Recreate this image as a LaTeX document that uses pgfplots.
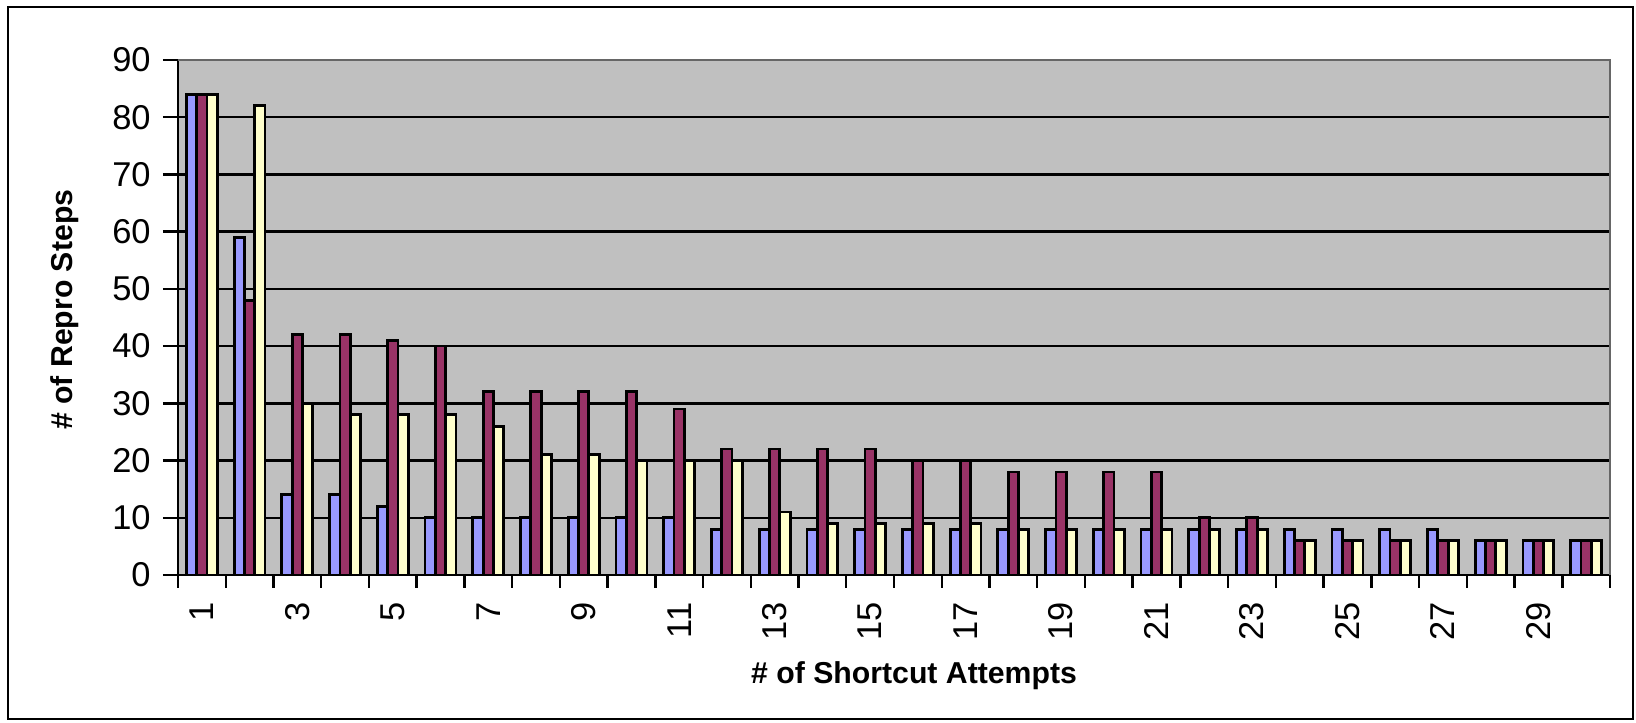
\documentclass[border=0pt]{standalone}
\usepackage{pgfplots}
\pgfplotsset{compat=1.18}
\usepackage{fontspec}
\setmainfont{Liberation Sans}
\definecolor{sA}{HTML}{9999FF}
\definecolor{sB}{HTML}{993366}
\definecolor{sC}{HTML}{FFFFCC}
\definecolor{bg}{HTML}{C0C0C0}
\begin{document}
\begin{tikzpicture}
\path[use as bounding box] (0,0) rectangle (163.6mm,72.3mm);
\draw[line width=0.6pt] (0.8mm,0.4mm) rectangle (163.3mm,71.6mm);
\begin{axis}[
 at={(17.8mm,14.8mm)}, anchor=south west,
 scale only axis, width=143.2mm, height=51.5mm,
 xmin=0.5, xmax=30.5, ymin=0, ymax=90,
 ybar=0pt, bar width=0.216,
 axis lines*=left,
 axis line style={black, line width=0.8pt},
 axis background/.style={fill=bg},
 ytick={0,10,...,90},
 ymajorgrids, grid style={black, line width=0.7pt},
 xtick={1,3,...,29},
 minor xtick={0.5,1.5,...,30.5},
 tick align=outside,
 major tick length=1.5mm, minor tick length=1.3mm,
 tick style={black, line width=0.7pt},
 major x tick style={draw=none},
 /pgf/number format/assume math mode=true,
 xticklabel style={rotate=90, anchor=east, font=\fontsize{9.8}{11}\selectfont},
 yticklabel style={font=\fontsize{9.8}{11}\selectfont},
 every axis x label/.style={at={(axis description cs:0.514,-0.196)}, anchor=center, font=\bfseries\fontsize{8.6}{10}\selectfont},
 every axis y label/.style={at={(axis description cs:-0.079,0.515)}, rotate=90, anchor=center, font=\bfseries\fontsize{8.6}{10}\selectfont},
 xlabel={\# of Shortcut Attempts},
 ylabel={\# of Repro Steps},
 every axis plot/.append style={draw=black, line width=0.8pt},
 after end axis/.code={\draw[gray!80!black, line width=0.7pt] (rel axis cs:0,1) -- (rel axis cs:1,1) -- (rel axis cs:1,0);},
]
\addplot[fill=sA] coordinates {
(1,84) (2,59) (3,14) (4,14) (5,12) (6,10) (7,10) (8,10) (9,10) (10,10)
(11,10) (12,8) (13,8) (14,8) (15,8) (16,8) (17,8) (18,8) (19,8) (20,8)
(21,8) (22,8) (23,8) (24,8) (25,8) (26,8) (27,8) (28,6) (29,6) (30,6)};
\addplot[fill=sB] coordinates {
(1,84) (2,48) (3,42) (4,42) (5,41) (6,40) (7,32) (8,32) (9,32) (10,32)
(11,29) (12,22) (13,22) (14,22) (15,22) (16,20) (17,20) (18,18) (19,18) (20,18)
(21,18) (22,10) (23,10) (24,6) (25,6) (26,6) (27,6) (28,6) (29,6) (30,6)};
\addplot[fill=sC] coordinates {
(1,84) (2,82) (3,30) (4,28) (5,28) (6,28) (7,26) (8,21) (9,21) (10,20)
(11,20) (12,20) (13,11) (14,9) (15,9) (16,9) (17,9) (18,8) (19,8) (20,8)
(21,8) (22,8) (23,8) (24,6) (25,6) (26,6) (27,6) (28,6) (29,6) (30,6)};
\end{axis}
\end{tikzpicture}
\end{document}
